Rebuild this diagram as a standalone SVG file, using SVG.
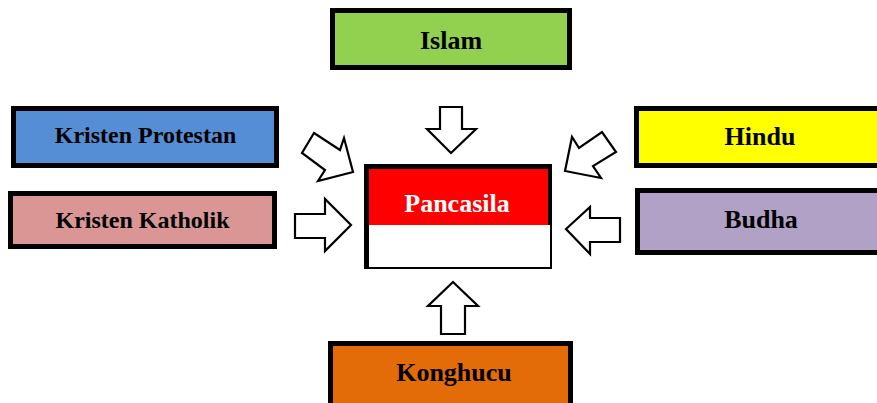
<svg xmlns="http://www.w3.org/2000/svg" width="877" height="403" viewBox="0 0 877 403">
<style>
.box{stroke:#000;stroke-width:5}
.t{font-family:"Liberation Serif","Times New Roman",serif;font-weight:bold;font-size:26px;fill:#000;text-anchor:middle}
.s{font-size:24px}
.arr{fill:#fff;stroke:#000;stroke-width:2.2;stroke-linejoin:miter}
</style>
<rect width="877" height="403" fill="#fff"/>
<g id="islam"><rect class="box" x="332.5" y="10.5" width="237" height="57" fill="#92D050"/><text class="t" x="451" y="49">Islam</text></g>
<g id="kristen-protestan"><rect class="box" x="13.5" y="108.5" width="263" height="57" fill="#558ED5"/><text class="t s" x="145.5" y="143">Kristen Protestan</text></g>
<g id="kristen-katholik"><rect class="box" x="10.5" y="193.5" width="264" height="53" fill="#D99694"/><text class="t s" x="142.5" y="228">Kristen Katholik</text></g>
<g id="hindu"><rect class="box" x="636.5" y="108.5" width="250" height="57" fill="#FFFF00"/><text class="t" x="760" y="145">Hindu</text></g>
<g id="budha"><rect class="box" x="637.5" y="190.5" width="250" height="62" fill="#B2A1C7"/><text class="t" x="761" y="228">Budha</text></g>
<g id="konghucu"><rect class="box" x="330.5" y="343.5" width="240" height="70" fill="#E36C09"/><text class="t" x="454" y="381">Konghucu</text></g>
<g id="pancasila">
<rect x="364" y="164" width="188" height="105" fill="#000"/>
<rect x="369" y="169" width="179" height="56" fill="#FF0000"/>
<rect x="369" y="225" width="181" height="42" fill="#fff"/>
<text class="t" x="457" y="212" fill="#fff" style="fill:#fff">Pancasila</text>
</g>
<g id="connectors">
<polygon class="arr" points="440,107 462,107 462,129 476,129 451,153 427,129 440,129"/>
<polygon class="arr" points="453,282 478,306 465,306 465,334 441,334 441,306 428,306"/>
<polygon class="arr" points="295,214 325,214 325,199 351,225 325,251 325,238 295,238"/>
<polygon class="arr" points="566,229 590,207 590,218 620,218 620,242 590,242 590,254"/>
<polygon class="arr" points="565,171 572,137 579,148 602,132 616,152 593,166 601,178"/>
<polygon class="arr" points="314,133 340,150 344,138 353,172 318,181 325,170 302,153"/>
</g>
</svg>
